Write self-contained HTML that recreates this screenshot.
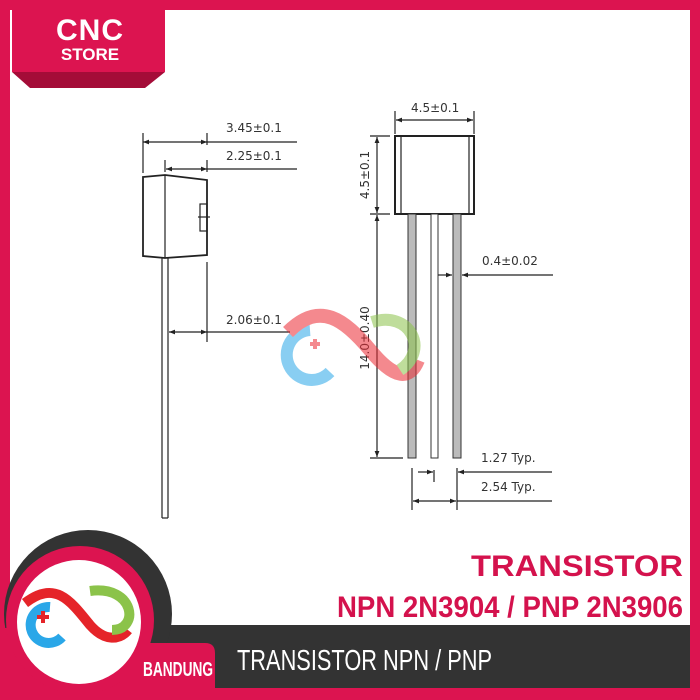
<!DOCTYPE html>
<html><head><meta charset="utf-8"><style>body{margin:0}svg{display:block}</style></head><body>
<svg width="700" height="700" viewBox="0 0 700 700" xmlns="http://www.w3.org/2000/svg">
<defs>
<marker id="a" viewBox="0 0 10 10" refX="10" refY="5" markerWidth="7" markerHeight="5" orient="auto-start-reverse"><path d="M0,1 L10,5 L0,9z" fill="#222"/></marker>
</defs>
<rect width="700" height="700" fill="#fff"/>
<!-- frame -->
<rect x="0" y="0" width="700" height="10" fill="#dc1450"/>
<rect x="0" y="0" width="10" height="700" fill="#dc1450"/>
<rect x="690" y="0" width="10" height="700" fill="#dc1450"/>
<!-- top logo -->
<polygon points="12,72 165,72 145,88 30,88" fill="#a40c38"/>
<rect x="12" y="0" width="153" height="72" fill="#dc1450"/>
<text x="90" y="40" text-anchor="middle" font-family="Liberation Sans, sans-serif" font-weight="bold" font-size="30" fill="#fff" letter-spacing="1">CNC</text>
<text x="90" y="60" text-anchor="middle" font-family="Liberation Sans, sans-serif" font-weight="bold" font-size="17" fill="#fff">STORE</text>

<g stroke="#222" fill="none" stroke-width="1.2" font-family="Liberation Sans, sans-serif">
<!-- left view -->
<path d="M143,177 L165,175 L207,180 L207,255 L165,258 L143,256 Z" stroke-width="1.8"/>
<line x1="165" y1="175" x2="165" y2="258"/>
<rect x="200" y="204" width="7" height="27"/>
<line x1="198" y1="217" x2="210" y2="217"/>
<line x1="162" y1="258" x2="162" y2="518"/><line x1="168" y1="258" x2="168" y2="518"/><line x1="162" y1="518" x2="168" y2="518"/>
<line x1="143" y1="133" x2="143" y2="173"/><line x1="207" y1="133" x2="207" y2="145"/><line x1="207" y1="160" x2="207" y2="172"/>
<line x1="165" y1="160" x2="165" y2="172"/>
<line x1="143" y1="142" x2="207" y2="142" marker-start="url(#a)" marker-end="url(#a)"/><line x1="207" y1="142" x2="297" y2="142"/>
<line x1="166" y1="169" x2="207" y2="169" marker-start="url(#a)" marker-end="url(#a)"/><line x1="207" y1="169" x2="297" y2="169"/>
<line x1="207" y1="262" x2="207" y2="342"/>
<line x1="169" y1="332" x2="207" y2="332" marker-start="url(#a)" marker-end="url(#a)"/><line x1="207" y1="332" x2="290" y2="332"/>
<!-- right view -->
<rect x="395" y="136" width="79" height="78" stroke-width="2"/>
<line x1="401" y1="136" x2="401" y2="214"/><line x1="469" y1="136" x2="469" y2="214"/>
<line x1="395" y1="111" x2="395" y2="134"/><line x1="474" y1="111" x2="474" y2="134"/>
<line x1="396" y1="120" x2="473" y2="120" marker-start="url(#a)" marker-end="url(#a)"/>
<line x1="370" y1="136" x2="390" y2="136"/><line x1="370" y1="214" x2="390" y2="214"/><line x1="370" y1="458" x2="403" y2="458"/>
<line x1="377" y1="137" x2="377" y2="213" marker-start="url(#a)" marker-end="url(#a)"/>
<line x1="377" y1="215" x2="377" y2="457" marker-start="url(#a)" marker-end="url(#a)"/>
</g>
<g fill="#bbb" stroke="#333" stroke-width="1">
<rect x="408" y="214" width="8" height="244"/><rect x="431" y="214" width="7" height="244" fill="#fff"/><rect x="453" y="214" width="8" height="244"/>
</g>
<g stroke="#222" fill="none" stroke-width="1.2">
<line x1="438" y1="275" x2="452" y2="275" marker-end="url(#a)"/><line x1="462" y1="275" x2="553" y2="275" marker-start="url(#a)"/>
<line x1="412" y1="468" x2="412" y2="510"/><line x1="434" y1="470" x2="434" y2="482"/><line x1="457" y1="468" x2="457" y2="510"/>
<line x1="418" y1="472" x2="433" y2="472" marker-end="url(#a)"/><line x1="458" y1="472" x2="552" y2="472" marker-start="url(#a)"/>
<line x1="413" y1="501" x2="456" y2="501" marker-start="url(#a)" marker-end="url(#a)"/><line x1="457" y1="501" x2="552" y2="501"/>
</g>
<g font-family="DejaVu Sans, sans-serif" font-size="12" fill="#333">
<text x="226" y="132">3.45±0.1</text>
<text x="226" y="160">2.25±0.1</text>
<text x="226" y="324">2.06±0.1</text>
<text x="411" y="112">4.5±0.1</text>
<text x="482" y="265">0.4±0.02</text>
<text x="481" y="462">1.27 Typ.</text>
<text x="481" y="491">2.54 Typ.</text>
<text transform="translate(369,175) rotate(-90)" text-anchor="middle">4.5±0.1</text>
<text transform="translate(369,338) rotate(-90)" text-anchor="middle">14.0±0.40</text>
</g>
<!-- watermark -->
<g opacity="0.55">
<path d="M310,330 A25,25 0 1,0 330,372" stroke="#2aa7e8" stroke-width="12" fill="none"/>
<path d="M288,332 C320,300 345,320 370,350 C395,380 410,380 418,360" stroke="#ec2a33" stroke-width="14" fill="none"/>
<path d="M372,322 C410,310 430,350 400,370" stroke="#8bc34a" stroke-width="12" fill="none"/>
<path d="M310,344 h10 M315,339 v10" stroke="#ec2a33" stroke-width="4"/>
</g>
<!-- bottom banner -->
<rect x="150" y="625" width="540" height="63" fill="#333"/>
<circle cx="88" cy="614" r="84" fill="#333"/>
<rect x="0" y="628" width="150" height="72" fill="#dc1450"/>
<rect x="0" y="688" width="700" height="12" fill="#dc1450"/>
<circle cx="80" cy="620" r="74" fill="#dc1450"/>
<path d="M120,690 V643 H205 Q215,643 215,653 V690 Z" fill="#dc1450"/>
<circle cx="79" cy="622" r="62" fill="#fff"/>
<path d="M50,607 A18,18 0 1,0 62,637" stroke="#2aa7e8" stroke-width="10" fill="none"/>
<path d="M25,603 C55,580 70,600 90,625 C105,642 120,640 128,630" stroke="#e52429" stroke-width="10" fill="none"/>
<path d="M90,591 C135,585 140,630 112,630" stroke="#8bc34a" stroke-width="10" fill="none"/>
<path d="M37,617 h12 M43,611 v12" stroke="#e52429" stroke-width="4"/>
<g font-family="Liberation Sans, sans-serif" font-weight="bold">
<text x="683" y="576" text-anchor="end" font-size="30" fill="#d4124d" textLength="212" lengthAdjust="spacingAndGlyphs">TRANSISTOR</text>
<text x="683" y="617" text-anchor="end" font-size="30" fill="#d4124d" textLength="346" lengthAdjust="spacingAndGlyphs">NPN 2N3904 / PNP 2N3906</text>
<text x="143" y="676" font-size="20" fill="#fff" textLength="70" lengthAdjust="spacingAndGlyphs">BANDUNG</text>
</g>
<text x="237" y="670" font-family="Liberation Sans, sans-serif" font-size="29" fill="#fff" textLength="255" lengthAdjust="spacingAndGlyphs">TRANSISTOR NPN / PNP</text>
</svg>
</body></html>
